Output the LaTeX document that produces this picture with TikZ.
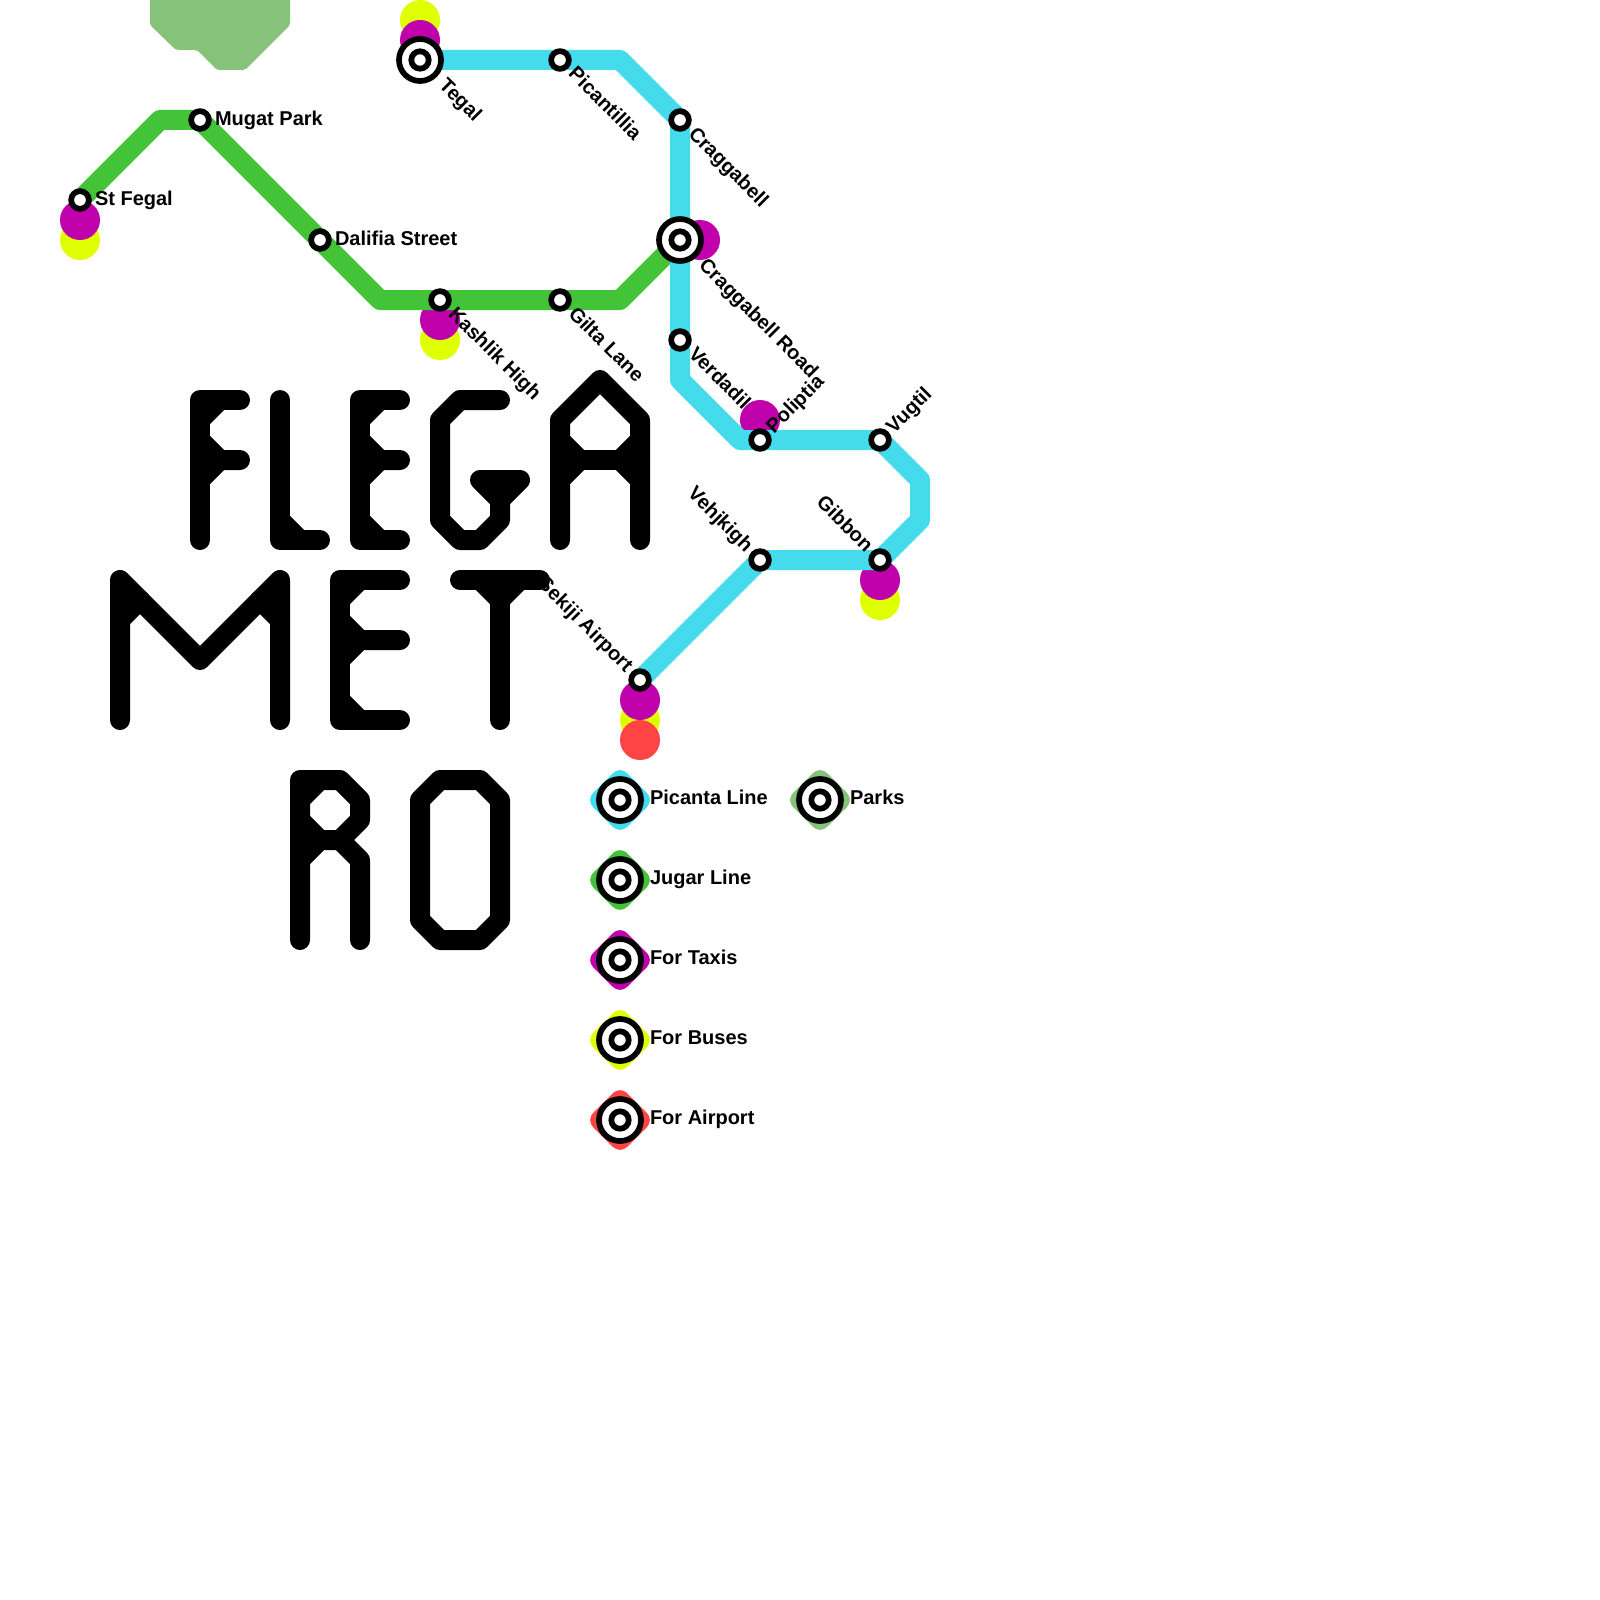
\documentclass[tikz,border=0pt]{standalone}
\usepackage{fontspec}
\setmainfont{Liberation Sans}
\usetikzlibrary{backgrounds}
\pgfdeclarelayer{under}
\pgfsetlayers{under,main}
\definecolor{cyanline}{RGB}{68,219,236}
\definecolor{greenline}{RGB}{67,196,56}
\definecolor{taxi}{RGB}{192,0,170}
\definecolor{bus}{RGB}{224,255,0}
\definecolor{air}{RGB}{255,68,68}
\definecolor{park}{RGB}{134,194,122}
\tikzset{
 x=1pt,y=-1pt,
 metro/.style={line width=20pt,line join=round},
 letter/.style={line width=20pt,line join=round,line cap=round,black},
 halt/.style={circle,draw=black,fill=white,line width=5.7pt,minimum size=17.7pt,inner sep=0pt,outer sep=0pt},
 hub/.style={circle,draw=black,fill=white,line width=5.7pt,minimum size=42pt,inner sep=0pt,outer sep=0pt,
   path picture={\draw[black,line width=5.7pt] (path picture bounding box.center) circle (8.7pt);}},
 lab/.style={font=\bfseries\fontsize{20}{24}\selectfont,inner sep=0pt,outer sep=0pt,text=black},
 lr/.style={lab,anchor=base west},
 ld/.style={lab,anchor=base west,rotate=-45},
 lu/.style={lab,anchor=base west,rotate=45},
 lb/.style={lab,anchor=base east,rotate=-45},
 dot/.style={circle,minimum size=40pt,inner sep=0pt,outer sep=0pt},
}
\newcommand{\legendrow}[4]{%
 \fill[#4,rounded corners=10pt] (#1,#2-34) -- (#1+34,#2) -- (#1,#2+34) -- (#1-34,#2) -- cycle;
 \node[hub] (#3) at (#1,#2) {};
}
\begin{document}
\begin{tikzpicture}
\begin{pgfonlayer}{under}
\fill[white] (0,0) rectangle (1600,1600);
\end{pgfonlayer}
\useasboundingbox (0,0) rectangle (1600,1600);
% stations
\node[halt] (stfegal) at (80,200) {};
\node[halt] (mugat) at (200,120) {};
\node[halt] (dalifia) at (320,240) {};
\node[halt] (kashlik) at (440,300) {};
\node[halt] (gilta) at (560,300) {};
\node[hub] (tegal) at (420,60) {};
\node[halt] (picant) at (560,60) {};
\node[halt] (cragg) at (680,120) {};
\node[hub] (craggrd) at (680,240) {};
\node[halt] (verdadil) at (680,340) {};
\node[halt] (poliptia) at (760,440) {};
\node[halt] (vugtil) at (880,440) {};
\node[halt] (gibbon) at (880,560) {};
\node[halt] (vehjkigh) at (760,560) {};
\node[halt] (sekiji) at (640,680) {};
% facilities and lines beneath the stations
\begin{pgfonlayer}{under}
\fill[park,rounded corners=2pt] (150,-5) -- (150,25) -- (176,50) -- (197,50) -- (217,70) -- (245,70) -- (290,25) -- (290,-5) -- cycle;
\node[dot,fill=bus] (d1) at (80,240) {};
\node[dot,fill=taxi] (d2) at (80,220) {};
\node[dot,fill=bus] (d3) at (420,20) {};
\node[dot,fill=taxi] (d4) at (420,40) {};
\node[dot,fill=bus] (d5) at (440,340) {};
\node[dot,fill=taxi] (d6) at (440,320) {};
\node[dot,fill=taxi] (d7) at (700,240) {};
\node[dot,fill=taxi] (d8) at (760,420) {};
\node[dot,fill=bus] (d9) at (880,600) {};
\node[dot,fill=taxi] (d10) at (880,580) {};
\node[dot,fill=bus] (d11) at (640,720) {};
\node[dot,fill=taxi] (d12) at (640,700) {};
\node[dot,fill=air] (d13) at (640,740) {};
\coordinate (g1) at (160,120);
\coordinate (g2) at (380,300);
\coordinate (g3) at (620,300);
\draw[metro,greenline] (stfegal.center) -- (g1) -- (mugat.center) -- (dalifia.center) -- (g2) -- (kashlik.center) -- (gilta.center) -- (g3) -- (craggrd.center);
\coordinate (c1) at (620,60);
\coordinate (c2) at (680,380);
\coordinate (c3) at (740,440);
\coordinate (c4) at (920,480);
\coordinate (c5) at (920,520);
\draw[metro,cyanline] (tegal.center) -- (picant.center) -- (c1) -- (cragg.center) -- (craggrd.center) -- (verdadil.center) -- (c2) -- (c3) -- (poliptia.center) -- (vugtil.center) -- (c4) -- (c5) -- (gibbon.center) -- (vehjkigh.center) -- (sekiji.center);
\end{pgfonlayer}
% lettering
\begin{scope}[letter]
% F
\draw (200,540) -- (200,400) -- (240,400); \draw (200,420) -- (220,400);
\draw (200,440) -- (220,460) -- (240,460); \draw (200,480) -- (220,460) -- (200,460);
% L
\draw (280,400) -- (280,540) -- (320,540); \draw (280,520) -- (300,540);
% E
\draw (400,400) -- (360,400) -- (360,540) -- (400,540); \draw (360,420) -- (380,400);
\draw (360,440) -- (380,460) -- (400,460); \draw (360,480) -- (380,460) -- (360,460); \draw (360,520) -- (380,540);
% G
\draw (500,400) -- (460,400) -- (440,420) -- (440,520) -- (460,540) -- (480,540) -- (500,520) -- (500,480);
\draw (480,480) -- (520,480) -- (500,500) -- (480,480);
% A
\draw (560,540) -- (560,420) -- (600,380) -- (640,420) -- (640,540);
\draw (560,460) -- (640,460); \draw (560,440) -- (580,460) -- (560,480); \draw (640,440) -- (620,460) -- (640,480);
% M
\draw (120,720) -- (120,580) -- (200,660) -- (280,580) -- (280,720);
\draw (120,620) -- (140,600); \draw (280,620) -- (260,600);
% E
\draw (400,580) -- (340,580) -- (340,720) -- (400,720); \draw (340,600) -- (360,580);
\draw (340,620) -- (360,640) -- (400,640); \draw (340,660) -- (360,640) -- (340,640); \draw (340,700) -- (360,720);
% T
\draw (460,580) -- (540,580); \draw (500,580) -- (500,720);
\draw (480,580) -- (500,600) -- (520,580);
% R
\draw (300,940) -- (300,780) -- (340,780) -- (360,800) -- (360,820) -- (340,840) -- (300,840);
\draw (340,840) -- (360,860) -- (360,940);
\draw (300,800) -- (320,780); \draw (300,820) -- (320,840) -- (300,860);
% O
\draw (440,780) -- (480,780) -- (500,800) -- (500,920) -- (480,940) -- (440,940) -- (420,920) -- (420,800) -- cycle;
\end{scope}
% legend
\legendrow{620}{800}{lg1}{cyanline}
\legendrow{620}{880}{lg2}{greenline}
\legendrow{620}{960}{lg3}{taxi}
\legendrow{620}{1040}{lg4}{bus}
\legendrow{620}{1120}{lg5}{air}
\legendrow{820}{800}{lg6}{park}
\foreach \n/\t in {lg1/Picanta Line,lg2/Jugar Line,lg3/For Taxis,lg4/For Buses,lg5/For Airport,lg6/Parks}
  \node[lr] at ([shift={(30,4.8)}]\n.center) {\t};
% labels
\node[lr] (t1) at ([shift={(15,5)}]stfegal.center) {St Fegal};
\node[lr] (t2) at ([shift={(15,5)}]mugat.center) {Mugat Park};
\node[lr] (t3) at ([shift={(15,5)}]dalifia.center) {Dalifia Street};
\node[ld] (t4) at ([shift={(7.5,15)}]kashlik.center) {Kashlik High};
\node[ld] (t5) at ([shift={(7.5,15)}]gilta.center) {Gilta Lane};
\node[ld] (t6) at ([shift={(18,26.5)}]tegal.center) {Tegal};
\node[ld] (t7) at ([shift={(7.5,15)}]picant.center) {Picantillia};
\node[ld] (t8) at ([shift={(7.5,15)}]cragg.center) {Craggabell};
\node[ld] (t9) at ([shift={(18,26.5)}]craggrd.center) {Craggabell Road};
\node[ld] (t10) at ([shift={(7.5,15)}]verdadil.center) {Verdadil};
\node[lu] (t11) at ([shift={(14,-6)}]poliptia.center) {Poliptia};
\node[lu] (t12) at ([shift={(14,-6)}]vugtil.center) {Vugtil};
\node[lb] (t13) at ([shift={(-15,-7)}]gibbon.center) {Gibbon};
\node[lb] (t14) at ([shift={(-15,-7)}]vehjkigh.center) {Vehjkigh};
\node[lb] (t15) at ([shift={(-15,-7)}]sekiji.center) {Sekiji Airport};
\end{tikzpicture}
\end{document}
